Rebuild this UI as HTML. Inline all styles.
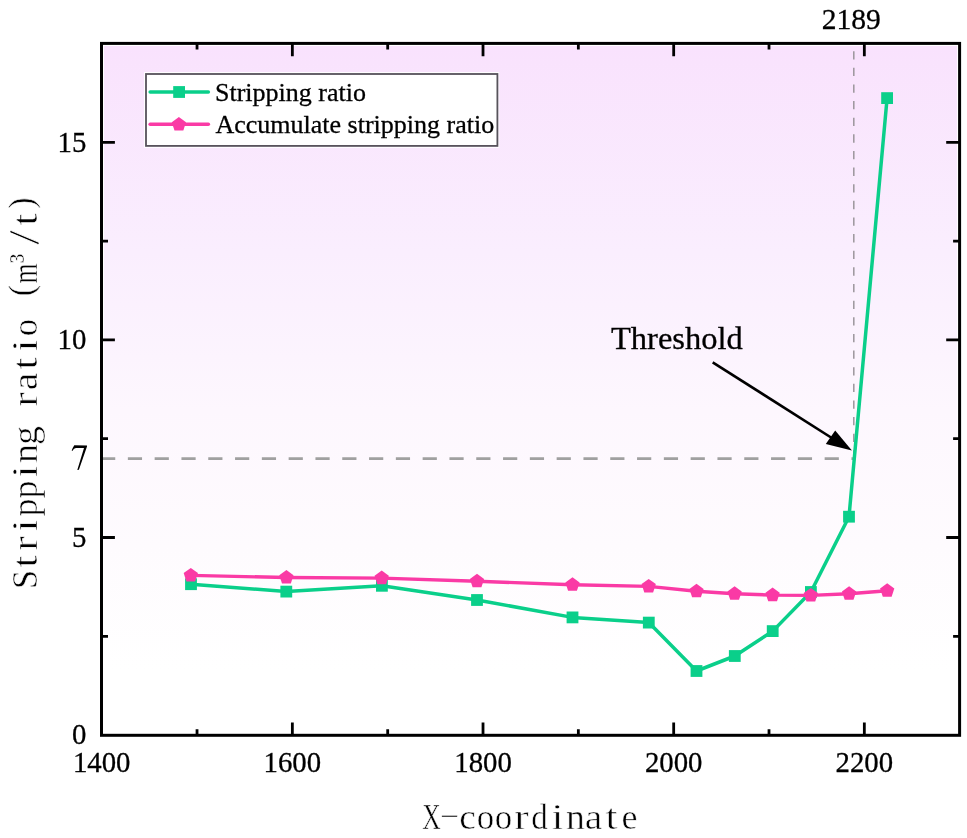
<!DOCTYPE html>
<html><head><meta charset="utf-8"><title>chart</title>
<style>
html,body{margin:0;padding:0;background:#fff;width:967px;height:838px;overflow:hidden;}
svg{display:block;will-change:transform;}
.serif{font-family:"Liberation Serif",serif;}
.mono{font-family:"Liberation Mono",monospace;}
.lab{stroke:#000;stroke-width:0.3px;}
</style></head><body>
<svg width="967" height="838" viewBox="0 0 967 838">
<defs>
<linearGradient id="bg" x1="0" y1="0" x2="0" y2="1">
<stop offset="0" stop-color="#F9E2FD"/>
<stop offset="0.30" stop-color="#FAEEFE"/>
<stop offset="0.53" stop-color="#FDF7FE"/>
<stop offset="0.73" stop-color="#FEFBFE"/>
<stop offset="0.91" stop-color="#FFFFFF"/>
<stop offset="1" stop-color="#FFFFFF"/>
</linearGradient>
</defs>
<rect x="0" y="0" width="967" height="838" fill="#fff"/>

<rect x="104" y="46" width="853" height="687" fill="url(#bg)"/>
<line x1="101.05" y1="458.6" x2="853.8" y2="458.6" stroke="#A0A0A0" stroke-width="2.6" stroke-dasharray="14.2 12.6"/>
<line x1="853.8" y1="458.6" x2="853.8" y2="45" stroke="#9C969C" stroke-width="1.5" stroke-dasharray="8.3 8.33"/>
<path d="M197.03,735.3 V729.30 M197.03,43.4 V49.40 M292.36,735.3 V722.50 M292.36,43.4 V56.20 M387.69,735.3 V729.30 M387.69,43.4 V49.40 M483.02,735.3 V722.50 M483.02,43.4 V56.20 M578.35,735.3 V729.30 M578.35,43.4 V49.40 M673.68,735.3 V722.50 M673.68,43.4 V56.20 M769.01,735.3 V729.30 M769.01,43.4 V49.40 M864.34,735.3 V722.50 M864.34,43.4 V56.20 M101.5,636.30 H108.00 M959.6,636.30 H953.10 M101.5,537.50 H114.90 M959.6,537.50 H946.20 M101.5,438.70 H108.00 M959.6,438.70 H953.10 M101.5,339.90 H114.90 M959.6,339.90 H946.20 M101.5,241.10 H108.00 M959.6,241.10 H953.10 M101.5,142.30 H114.90 M959.6,142.30 H946.20" stroke="#000" stroke-width="2.8" fill="none"/>
<rect x="101.5" y="43.4" width="858.1" height="691.9" fill="none" stroke="#000" stroke-width="3"/>
<path d="M191,584.2 L286.3,591.6 L381.9,585.8 L477,600 L572.5,617.4 L648.8,622.6 L696.5,671 L734.8,656 L772.7,631.1 L810.9,592 L849,516.7 L887.1,98.1" fill="none" stroke="#0ACF8A" stroke-width="3.5" stroke-linejoin="round"/>
<g fill="#0ACF8A"><rect x="185.10" y="578.30" width="11.8" height="11.8"/><rect x="280.40" y="585.70" width="11.8" height="11.8"/><rect x="376.00" y="579.90" width="11.8" height="11.8"/><rect x="471.10" y="594.10" width="11.8" height="11.8"/><rect x="566.60" y="611.50" width="11.8" height="11.8"/><rect x="642.90" y="616.70" width="11.8" height="11.8"/><rect x="690.60" y="665.10" width="11.8" height="11.8"/><rect x="728.90" y="650.10" width="11.8" height="11.8"/><rect x="766.80" y="625.20" width="11.8" height="11.8"/><rect x="805.00" y="586.10" width="11.8" height="11.8"/><rect x="843.10" y="510.80" width="11.8" height="11.8"/><rect x="881.20" y="92.20" width="11.8" height="11.8"/></g>
<path d="M190.8,575.4 L286.4,577.5 L381.7,578.1 L477,581.3 L572.5,584.7 L648.7,586.4 L696.5,591.3 L734.6,593.7 L772.6,595.1 L810.8,595.4 L849.1,593.7 L887.2,590.8" fill="none" stroke="#FA3AA5" stroke-width="3.4" stroke-linejoin="round"/>
<g fill="#FA3AA5"><polygon points="190.80,567.90 197.93,573.08 195.21,581.47 186.39,581.47 183.67,573.08"/><polygon points="286.40,570.00 293.53,575.18 290.81,583.57 281.99,583.57 279.27,575.18"/><polygon points="381.70,570.60 388.83,575.78 386.11,584.17 377.29,584.17 374.57,575.78"/><polygon points="477.00,573.80 484.13,578.98 481.41,587.37 472.59,587.37 469.87,578.98"/><polygon points="572.50,577.20 579.63,582.38 576.91,590.77 568.09,590.77 565.37,582.38"/><polygon points="648.70,578.90 655.83,584.08 653.11,592.47 644.29,592.47 641.57,584.08"/><polygon points="696.50,583.80 703.63,588.98 700.91,597.37 692.09,597.37 689.37,588.98"/><polygon points="734.60,586.20 741.73,591.38 739.01,599.77 730.19,599.77 727.47,591.38"/><polygon points="772.60,587.60 779.73,592.78 777.01,601.17 768.19,601.17 765.47,592.78"/><polygon points="810.80,587.90 817.93,593.08 815.21,601.47 806.39,601.47 803.67,593.08"/><polygon points="849.10,586.20 856.23,591.38 853.51,599.77 844.69,599.77 841.97,591.38"/><polygon points="887.20,583.30 894.33,588.48 891.61,596.87 882.79,596.87 880.07,588.48"/></g>
<line x1="712.7" y1="362.3" x2="835" y2="440" stroke="#000" stroke-width="2.6"/>
<polygon points="851.9,450.5 825.8,444 835.2,430.4" fill="#000"/>
<rect x="144.6" y="72.6" width="354.2" height="74.7" fill="none" stroke="#fff" stroke-width="1"/>
<rect x="146" y="74" width="351.4" height="71.9" fill="#fff" stroke="#57535B" stroke-width="1.8"/>
<line x1="150.1" y1="92" x2="208.4" y2="92" stroke="#0ACF8A" stroke-width="3.4" stroke-linecap="round"/>
<rect x="173.2" y="86.1" width="11.8" height="11.8" fill="#0ACF8A"/>
<line x1="150.1" y1="124.3" x2="208.4" y2="124.3" stroke="#FA3AA5" stroke-width="3.4" stroke-linecap="round"/>
<polygon points="178.90,117.00 186.03,122.18 183.31,130.57 174.49,130.57 171.77,122.18" fill="#FA3AA5"/>
<text class="serif lab" x="215" y="101" font-size="26">Stripping ratio</text>
<text class="serif lab" x="215.5" y="132.5" font-size="26">Accumulate stripping ratio</text>
<text class="serif lab" transform="translate(101.70,772.2) scale(0.96,1)" font-size="30" text-anchor="middle">1400</text>
<text class="serif lab" transform="translate(292.36,772.2) scale(0.96,1)" font-size="30" text-anchor="middle">1600</text>
<text class="serif lab" transform="translate(483.02,772.2) scale(0.96,1)" font-size="30" text-anchor="middle">1800</text>
<text class="serif lab" transform="translate(673.68,772.2) scale(0.96,1)" font-size="30" text-anchor="middle">2000</text>
<text class="serif lab" transform="translate(864.34,772.2) scale(0.96,1)" font-size="30" text-anchor="middle">2200</text>
<text class="serif lab" transform="translate(86.3,744.40) scale(0.96,1)" font-size="30" text-anchor="end">0</text>
<text class="serif lab" transform="translate(86.3,546.80) scale(0.96,1)" font-size="30" text-anchor="end">5</text>
<text class="serif lab" transform="translate(86.3,349.20) scale(0.96,1)" font-size="30" text-anchor="end">10</text>
<text class="serif lab" transform="translate(86.3,151.60) scale(0.96,1)" font-size="30" text-anchor="end">15</text>
<path d="M74.3,445.3 L87.0,445.4 L87.0,446.6 L78.9,469.8 L77.3,470.0 L84.0,448.1 L76.0,448.1 Q73.9,448.4 72.3,450.9 L71.7,450.5 Q72.8,447.6 74.3,445.3 Z" fill="#000"/>
<text class="serif lab" transform="translate(851.3,28.8) scale(0.97,1)" font-size="30.5" text-anchor="middle">2189</text>
<text class="serif lab" x="611" y="349.3" font-size="32.5">Threshold</text>
<g class="serif" font-size="36" stroke="#fff" stroke-width="0.55" transform="translate(422.5,829)"><text transform="translate(9.00,0) scale(0.71,1)" text-anchor="middle">X</text><rect x="19.20" y="-13.6" width="15.6" height="1.6"/><text transform="translate(45.00,0) scale(1.03,1)" text-anchor="middle">c</text><text transform="translate(63.00,0) scale(0.97,1)" text-anchor="middle">o</text><text transform="translate(81.00,0) scale(0.97,1)" text-anchor="middle">o</text><text transform="translate(99.00,0) scale(1.2,1)" text-anchor="middle">r</text><text transform="translate(117.00,0) scale(0.92,1)" text-anchor="middle">d</text><text transform="translate(135.00,0) scale(1.2,1)" text-anchor="middle">i</text><text transform="translate(153.00,0) scale(1.05,1)" text-anchor="middle">n</text><text transform="translate(171.00,0) scale(1.1,1)" text-anchor="middle">a</text><text transform="translate(189.00,0) scale(1.2,1)" text-anchor="middle">t</text><text transform="translate(207.00,0) scale(1.0,1)" text-anchor="middle">e</text></g>
<g class="serif" font-size="36" stroke="#fff" stroke-width="0.55" transform="translate(36.8,588.5) rotate(-90)"><text transform="translate(9.00,0) scale(0.95,1)" text-anchor="middle">S</text><text transform="translate(27.00,0) scale(1.2,1)" text-anchor="middle">t</text><text transform="translate(45.00,0) scale(1.2,1)" text-anchor="middle">r</text><text transform="translate(63.00,0) scale(1.2,1)" text-anchor="middle">i</text><text transform="translate(81.00,0) scale(1.0,1)" text-anchor="middle">p</text><text transform="translate(99.00,0) scale(1.0,1)" text-anchor="middle">p</text><text transform="translate(117.00,0) scale(1.2,1)" text-anchor="middle">i</text><text transform="translate(135.00,0) scale(1.05,1)" text-anchor="middle">n</text><text transform="translate(153.00,0) scale(1.05,1)" text-anchor="middle">g</text><text transform="translate(189.00,0) scale(1.2,1)" text-anchor="middle">r</text><text transform="translate(207.00,0) scale(1.1,1)" text-anchor="middle">a</text><text transform="translate(225.00,0) scale(1.2,1)" text-anchor="middle">t</text><text transform="translate(243.00,0) scale(1.2,1)" text-anchor="middle">i</text><text transform="translate(261.00,0) scale(0.97,1)" text-anchor="middle">o</text><text transform="translate(298.00,-4) scale(0.95,1)" text-anchor="middle">(</text><text transform="translate(315.00,0) scale(0.72,1)" text-anchor="middle">m</text><text transform="translate(330.20,-2.4) scale(0.9,1)" text-anchor="middle">&#179;</text><text transform="translate(351.00,2.6) scale(1.5,1.23)" text-anchor="middle">/</text><text transform="translate(369.00,0) scale(1.2,1)" text-anchor="middle">t</text><text transform="translate(385.50,-4) scale(0.95,1)" text-anchor="middle">)</text></g>
</svg></body></html>
